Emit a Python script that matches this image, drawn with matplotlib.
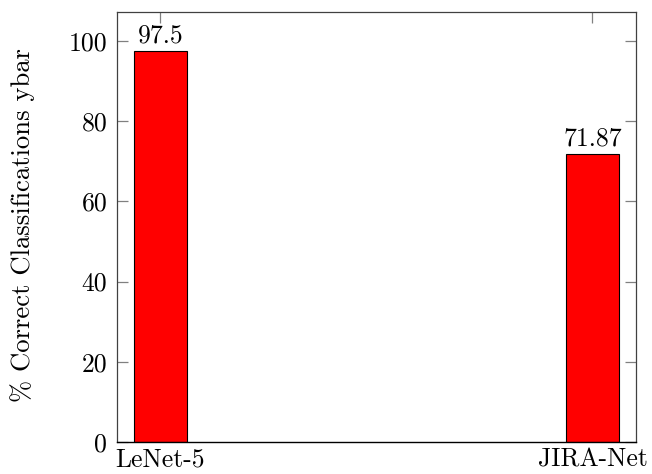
import matplotlib

matplotlib.use("Agg")
import matplotlib.pyplot as plt

plt.rcParams["font.family"] = "serif"
plt.rcParams["font.serif"] = ["cmr10", "DejaVu Serif"]
plt.rcParams["mathtext.fontset"] = "cm"
plt.rcParams["axes.formatter.use_mathtext"] = True

models = ["LeNet-5", "JIRA-Net"]
accuracy = [97.5, 71.87]
value_labels = ["97.5", "71.87"]
yticks = [0, 20, 40, 60, 80, 100]

TICK = "#808080"
FS = 18.5

fig = plt.figure(figsize=(6.52, 4.74), dpi=100)
ax = fig.add_axes([0.1794, 0.0675, 0.9750 - 0.1794, 0.9747 - 0.0675])

x = list(range(len(models)))
ax.bar(x, accuracy, width=0.1233, color="#ff0000", edgecolor="black", lw=0.8, zorder=3)
for xi, v, lab in zip(x, accuracy, value_labels):
    ax.annotate(lab, (xi, v), xytext=(0, 6), textcoords="offset points",
                ha="center", va="baseline", fontsize=FS)

ax.set_xlim(-0.1, 1.1)
ax.set_ylim(0, 107.25)
ax.set_xticks(x)
ax.set_xticklabels(models, fontsize=FS)
ax.set_yticks(yticks)
ax.set_yticklabels([str(t) for t in yticks], fontsize=FS)

ax.tick_params(axis="y", direction="in", length=8, width=0.9, color=TICK,
               left=True, right=True, pad=7)
ax.tick_params(axis="x", direction="in", length=8, width=0.9, color=TICK,
               top=True, bottom=False, pad=4)

for side in ["top", "right", "left"]:
    ax.spines[side].set_color("#404040")
    ax.spines[side].set_linewidth(0.9)
ax.spines["bottom"].set_color("black")
ax.spines["bottom"].set_linewidth(1.0)
ax.spines["bottom"].set_zorder(4)

fig.text(23 / 652, 0.525, "% Correct Classifications ybar", rotation=90,
         ha="center", va="center", fontsize=19.2)

fig.savefig("out.png", dpi=100, facecolor="white")
